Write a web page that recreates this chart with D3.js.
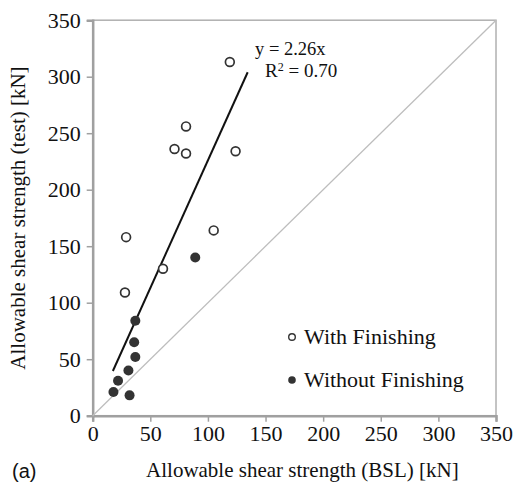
<!DOCTYPE html>
<html>
<head>
<meta charset="utf-8">
<script src="https://cdn.jsdelivr.net/npm/d3@7"></script>
<style>
body { margin: 0; background: #fff; }
text { font-family: "Liberation Serif", "Times New Roman", serif; fill: #111; }
</style>
</head>
<body>
<script>
var w = 514;
var h = 483;

// values [BSL, test] in kN
var withFinishing = [
[119, 313], [81, 256], [71, 236], [81, 232], [124, 234],
[29, 158], [105, 164], [61, 130], [28, 109] ];

var withoutFinishing = [
[89, 140], [37, 84], [36, 65], [37, 52], [31, 40],
[22, 31], [18, 21], [32, 18] ];

var ticks = [0, 50, 100, 150, 200, 250, 300, 350];
var slope = 2.26;
var fitRange = [17.5, 134.5];
var legendLabels = ["With Finishing", "Without Finishing"];

var xScale = d3.scaleLinear()
    .domain([0, 350])
    .range([92.7, 496]);

var yScale = d3.scaleLinear()
    .domain([0, 350])
    .range([415.7, 20.2]);

var svg = d3.select("body")
    .append("svg")
    .attr("width", w)
    .attr("height", h);

// frame
svg.append("rect")
    .attr("x", xScale(0))
    .attr("y", yScale(350))
    .attr("width", xScale(350) - xScale(0))
    .attr("height", yScale(0) - yScale(350))
    .attr("fill", "none")
    .attr("stroke", "#b0b0b0")
    .attr("stroke-width", 1.5);

var xAxis = d3.axisBottom(xScale).tickValues(ticks).tickSize(6).tickPadding(4);
var yAxis = d3.axisLeft(yScale).tickValues(ticks).tickSize(6).tickPadding(6);

var gx = svg.append("g")
    .attr("transform", "translate(0," + yScale(0) + ")")
    .call(xAxis);
var gy = svg.append("g")
    .attr("transform", "translate(" + xScale(0) + ",0)")
    .call(yAxis);

[gx, gy].forEach(function(g) {
    g.select(".domain").attr("stroke", "#a0a0a0").attr("stroke-width", 2.5);
    g.selectAll(".tick line").attr("stroke", "#a0a0a0").attr("stroke-width", 1.5);
    g.selectAll(".tick text")
        .attr("fill", "#111")
        .style("font-family", "'Liberation Serif', serif")
        .style("font-size", "22px");
});

// y = x reference
svg.append("line")
    .attr("x1", xScale(0)).attr("y1", yScale(0))
    .attr("x2", xScale(350)).attr("y2", yScale(350))
    .attr("stroke", "#bdbdbd")
    .attr("stroke-width", 1.3);

// fitted line
svg.append("line")
    .attr("x1", xScale(fitRange[0])).attr("y1", yScale(slope * fitRange[0]))
    .attr("x2", xScale(fitRange[1])).attr("y2", yScale(slope * fitRange[1]))
    .attr("stroke", "#111")
    .attr("stroke-width", 2);

svg.selectAll("circle.open")
    .data(withFinishing)
    .enter()
    .append("circle")
    .attr("class", "open")
    .attr("cx", function(d) { return xScale(d[0]); })
    .attr("cy", function(d) { return yScale(d[1]); })
    .attr("r", 4.4)
    .attr("fill", "#fff")
    .attr("stroke", "#333")
    .attr("stroke-width", 1.7);

svg.selectAll("circle.filled")
    .data(withoutFinishing)
    .enter()
    .append("circle")
    .attr("class", "filled")
    .attr("cx", function(d) { return xScale(d[0]); })
    .attr("cy", function(d) { return yScale(d[1]); })
    .attr("r", 5)
    .attr("fill", "#333");

// equation
svg.append("text")
    .attr("x", 255).attr("y", 55)
    .style("font-size", "18.5px")
    .text("y = " + slope + "x");
var r2 = svg.append("text")
    .attr("x", 265).attr("y", 77)
    .style("font-size", "19px");
r2.append("tspan").text("R");
r2.append("tspan").attr("dy", -6).style("font-size", "12px").text("2");
r2.append("tspan").attr("dy", 6).text(" = 0.70");

// legend
legendLabels.forEach(function(t, i) {
    var ly = 337 + i * 43;
    svg.append("circle")
        .attr("cx", 292).attr("cy", ly)
        .attr("r", i === 0 ? 3.3 : 3.8)
        .attr("fill", i === 0 ? "#fff" : "#333")
        .attr("stroke", "#333")
        .attr("stroke-width", i === 0 ? 1.4 : 0);
    svg.append("text")
        .attr("x", 304).attr("y", ly + 7)
        .style("font-size", "22px")
        .text(t);
});

// axis titles
svg.append("text")
    .attr("x", (xScale(0) + xScale(350)) / 2 + 8)
    .attr("y", 477)
    .attr("text-anchor", "middle")
    .style("font-size", "21px")
    .text("Allowable shear strength (BSL) [kN]");

svg.append("text")
    .attr("transform", "translate(25," + 218 + ") rotate(-90)")
    .attr("text-anchor", "middle")
    .style("font-size", "21px")
    .text("Allowable shear strength (test) [kN]");

svg.append("text")
    .attr("x", 12).attr("y", 478)
    .style("font-family", "'Liberation Sans', Arial, sans-serif")
    .style("font-size", "20px")
    .text("(a)");
</script>
</body>
</html>
